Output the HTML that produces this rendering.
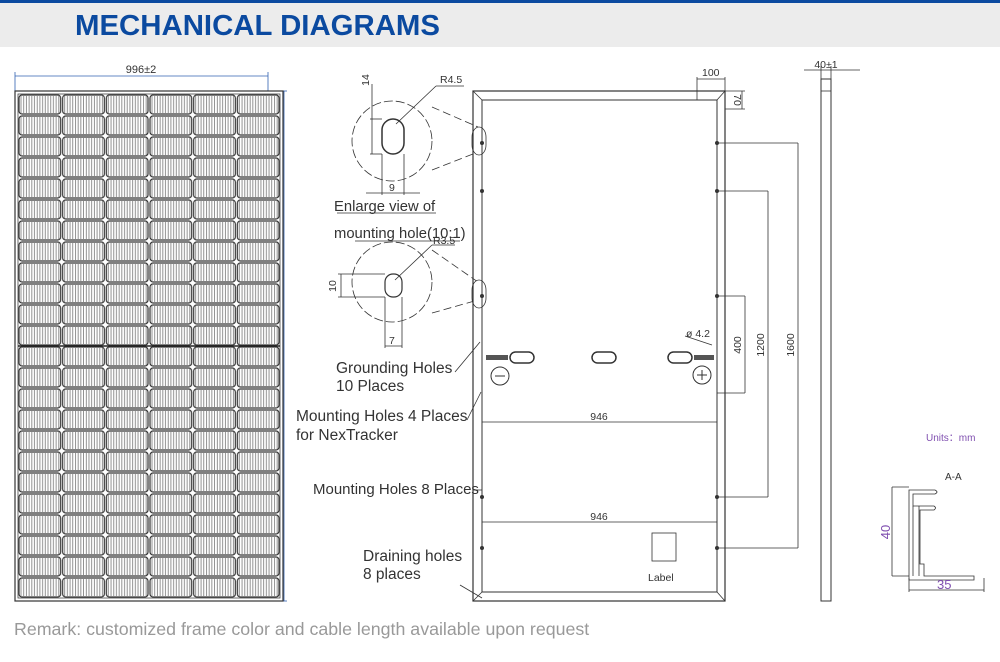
<!DOCTYPE html>
<html><head><meta charset="utf-8"><style>
body{margin:0;width:1000px;height:657px;background:#fff;overflow:hidden;font-family:"Liberation Sans",sans-serif}
</style></head><body>
<svg width="1000" height="657" viewBox="0 0 1000 657" xmlns="http://www.w3.org/2000/svg" font-family="Liberation Sans, sans-serif">
<defs>
<pattern id="cell" patternUnits="userSpaceOnUse" x="18" y="94" width="43.67" height="21">
<rect x="0" y="0" width="43.67" height="21" fill="#fff"/>
<g stroke="#777" stroke-width="0.8">
<line x1="3" y1="2" x2="3" y2="19"/><line x1="5.7" y1="2" x2="5.7" y2="19"/><line x1="8.4" y1="2" x2="8.4" y2="19"/><line x1="11.1" y1="2" x2="11.1" y2="19"/><line x1="13.8" y1="2" x2="13.8" y2="19"/><line x1="16.5" y1="2" x2="16.5" y2="19"/><line x1="19.2" y1="2" x2="19.2" y2="19"/><line x1="21.9" y1="2" x2="21.9" y2="19"/><line x1="24.6" y1="2" x2="24.6" y2="19"/><line x1="27.3" y1="2" x2="27.3" y2="19"/><line x1="30" y1="2" x2="30" y2="19"/><line x1="32.7" y1="2" x2="32.7" y2="19"/><line x1="35.4" y1="2" x2="35.4" y2="19"/><line x1="38.1" y1="2" x2="38.1" y2="19"/><line x1="40.8" y1="2" x2="40.8" y2="19"/>
</g>
<rect x="1" y="1" width="41.67" height="19" rx="3" fill="none" stroke="#333" stroke-width="1.2"/>
</pattern>
</defs>
<rect x="0" y="0" width="1000" height="3" fill="#0b4aa0"/>
<rect x="0" y="3" width="1000" height="44" fill="#ececec"/>
<text x="75" y="35" font-size="29" font-weight="bold" fill="#0b4aa0" textLength="365" lengthAdjust="spacingAndGlyphs">MECHANICAL DIAGRAMS</text>

<g stroke="#3060b0" stroke-width="0.8" fill="none">
<line x1="15" y1="76" x2="268" y2="76"/><line x1="15" y1="72" x2="15" y2="92"/><line x1="268" y1="72" x2="268" y2="92"/>
<line x1="283" y1="91" x2="287" y2="91"/><line x1="283" y1="601" x2="287" y2="601"/><line x1="284" y1="91" x2="284" y2="601"/>
</g>
<text x="141" y="73" font-size="11" text-anchor="middle" fill="#333">996±2</text>
<text transform="translate(280,346) rotate(-90)" font-size="11" text-anchor="middle" fill="#333">2015±2</text>
<rect x="15" y="91" width="268" height="510" fill="#fff" stroke="#333" stroke-width="1.2"/>
<rect x="18" y="94" width="262" height="504" fill="url(#cell)" stroke="#444" stroke-width="0.8"/>
<line x1="18" y1="346" x2="280" y2="346" stroke="#222" stroke-width="1.5"/>

<g stroke="#333" stroke-width="0.8" fill="none">
<circle cx="392" cy="141" r="40" stroke-dasharray="9,3"/>
<rect x="382" y="119" width="22" height="35" rx="11" stroke-width="1.5"/>
<line x1="370" y1="119" x2="382" y2="119"/><line x1="370" y1="154" x2="382" y2="154"/>
<line x1="372" y1="84" x2="372" y2="154"/>
<line x1="382" y1="154" x2="382" y2="195"/><line x1="404" y1="154" x2="404" y2="195"/>
<line x1="366" y1="193" x2="420" y2="193"/>
<line x1="396" y1="124" x2="436" y2="86"/><line x1="436" y1="86" x2="464" y2="86"/>
<line x1="432" y1="107" x2="478" y2="127" stroke-dasharray="8,4"/><line x1="432" y1="170" x2="478" y2="152" stroke-dasharray="8,4"/>
<circle cx="392" cy="282" r="40" stroke-dasharray="9,3"/>
<rect x="385" y="274" width="17" height="23" rx="8" stroke-width="1.2"/>
<line x1="338" y1="274" x2="385" y2="274"/><line x1="338" y1="297" x2="385" y2="297"/>
<line x1="341" y1="274" x2="341" y2="297"/>
<line x1="385" y1="297" x2="385" y2="348"/><line x1="402" y1="297" x2="402" y2="348"/>
<line x1="385" y1="346" x2="402" y2="346"/>
<line x1="395" y1="280" x2="432" y2="245"/><line x1="432" y1="245" x2="455" y2="245"/>
<line x1="432" y1="250" x2="478" y2="282" stroke-dasharray="8,4"/><line x1="432" y1="313" x2="478" y2="300" stroke-dasharray="8,4"/>
<line x1="337" y1="213" x2="436" y2="213"/><line x1="355" y1="241" x2="460" y2="241"/>
</g>
<text transform="translate(369,80) rotate(-90)" font-size="10.5" fill="#333" text-anchor="middle">14</text>
<text x="440" y="83" font-size="10.5" fill="#333">R4.5</text>
<text x="389" y="191" font-size="10.5" fill="#333">9</text>
<text x="334" y="211" font-size="14.8" fill="#333">Enlarge view of</text>
<text x="334" y="238" font-size="14.8" fill="#333">mounting hole(10:1)</text>
<text x="433" y="244" font-size="10.5" fill="#333">R3.5</text>
<text transform="translate(336,286) rotate(-90)" font-size="10.5" fill="#333" text-anchor="middle">10</text>
<text x="389" y="344" font-size="10.5" fill="#333">7</text>
<path d="M472 137 a7 10 0 0 1 14 0 v8 a7 10 0 0 1 -14 0z" fill="#fff" stroke="#333" stroke-width="0.8"/>
<path d="M472 290 a7 10 0 0 1 14 0 v8 a7 10 0 0 1 -14 0z" fill="#fff" stroke="#333" stroke-width="0.8"/>

<g stroke="#333" fill="none">
<rect x="473" y="91" width="252" height="510" stroke-width="1.2"/>
<rect x="482" y="100" width="235" height="492" stroke-width="1"/>
<line x1="473" y1="91" x2="482" y2="100" stroke-width="0.8"/><line x1="725" y1="91" x2="717" y2="100" stroke-width="0.8"/>
<line x1="473" y1="601" x2="482" y2="592" stroke-width="0.8"/><line x1="725" y1="601" x2="717" y2="592" stroke-width="0.8"/>
<g stroke-width="0.8">
<line x1="717" y1="191" x2="768" y2="191"/>
<line x1="717" y1="143" x2="798" y2="143"/><line x1="717" y1="548" x2="798" y2="548"/>
<line x1="717" y1="497" x2="768" y2="497"/>
<line x1="717" y1="296" x2="745" y2="296"/><line x1="717" y1="393" x2="745" y2="393"/>
<line x1="798" y1="143" x2="798" y2="548"/><line x1="768" y1="191" x2="768" y2="497"/><line x1="745" y1="296" x2="745" y2="393"/>
<line x1="482" y1="422" x2="717" y2="422"/><line x1="482" y1="522" x2="717" y2="522"/>
<line x1="697" y1="77" x2="697" y2="100"/><line x1="725" y1="77" x2="725" y2="100"/><line x1="697" y1="79" x2="725" y2="79"/>
<line x1="725" y1="91" x2="745" y2="91"/><line x1="725" y1="109" x2="745" y2="109"/><line x1="742" y1="91" x2="742" y2="109"/>
<line x1="685" y1="336" x2="712" y2="345"/>
</g>
<rect x="652" y="533" width="24" height="28" stroke-width="0.8"/>
<rect x="510" y="352" width="24" height="11" rx="5.5" stroke-width="1.5"/>
<rect x="592" y="352" width="24" height="11" rx="5.5" stroke-width="1.5"/>
<rect x="668" y="352" width="24" height="11" rx="5.5" stroke-width="1.5"/>
<circle cx="500" cy="376" r="9" stroke-width="1"/><circle cx="702" cy="375" r="9" stroke-width="1"/>
<line x1="495" y1="376" x2="505" y2="376"/><line x1="697" y1="375" x2="707" y2="375"/><line x1="702" y1="370" x2="702" y2="380"/>
</g>
<rect x="486" y="355" width="22" height="5" fill="#555"/>
<rect x="694" y="355" width="20" height="5" fill="#555"/>
<g fill="#333">
<circle cx="482" cy="143" r="2"/><circle cx="482" cy="191" r="2"/><circle cx="482" cy="296" r="2"/><circle cx="482" cy="497" r="2"/><circle cx="482" cy="548" r="2"/>
<circle cx="717" cy="143" r="2"/><circle cx="717" cy="191" r="2"/><circle cx="717" cy="296" r="2"/><circle cx="717" cy="497" r="2"/><circle cx="717" cy="548" r="2"/>
</g>
<g font-size="10.5" fill="#333">
<text x="702" y="76">100</text>
<text transform="translate(734,100) rotate(90)" text-anchor="middle">70</text>
<text transform="translate(741,345) rotate(-90)" text-anchor="middle">400</text>
<text transform="translate(764,345) rotate(-90)" text-anchor="middle">1200</text>
<text transform="translate(794,345) rotate(-90)" text-anchor="middle">1600</text>
<text x="686" y="337">ø 4.2</text>
<text x="599" y="420" text-anchor="middle">946</text>
<text x="599" y="520" text-anchor="middle">946</text>
<text x="648" y="581">Label</text>
</g>
<g stroke="#333" stroke-width="0.8" fill="none">
<line x1="455" y1="372" x2="480" y2="342"/>
<line x1="467" y1="420" x2="481" y2="392"/>
<line x1="473" y1="490" x2="482" y2="490"/>
<line x1="460" y1="585" x2="482" y2="598"/>
</g>
<g font-size="15.5" fill="#333">
<text x="336" y="373">Grounding Holes</text><text x="336" y="391">10 Places</text>
<text x="296" y="421">Mounting Holes 4 Places</text><text x="296" y="440">for NexTracker</text>
<text x="313" y="494" font-size="15">Mounting Holes 8 Places</text>
<text x="363" y="561">Draining holes</text><text x="363" y="579">8 places</text>
</g>
<g stroke="#333" fill="none" stroke-width="0.8">
<rect x="821" y="79" width="10" height="522" stroke-width="1"/>
<line x1="821" y1="91" x2="831" y2="91"/>
<line x1="804" y1="70" x2="860" y2="70"/><line x1="821" y1="66" x2="821" y2="79"/><line x1="831" y1="66" x2="831" y2="79"/>
</g>
<text x="826" y="68" font-size="10.5" fill="#333" text-anchor="middle">40±1</text>
<text x="926" y="441" font-size="10" fill="#8050b0">Units：mm</text>
<text x="945" y="480" font-size="10" fill="#333">A-A</text>
<g stroke="#333" fill="none" stroke-width="0.8">
<path d="M909 576 V490 h26 q4 2 0 4 h-22 v12 h21 q3 2 0 4 h-14 v54 h4 v12 h50 v4 h-65 z"/>
<line x1="913" y1="506" x2="913" y2="576"/><line x1="919" y1="506" x2="919" y2="576"/>
<line x1="892" y1="487" x2="909" y2="487"/><line x1="892" y1="576" x2="909" y2="576"/><line x1="892" y1="487" x2="892" y2="576"/>
<line x1="909" y1="578" x2="909" y2="592"/><line x1="984" y1="578" x2="984" y2="592"/><line x1="909" y1="590" x2="984" y2="590"/>
</g>
<text transform="translate(890,532) rotate(-90)" font-size="13" fill="#8050b0" text-anchor="middle">40</text>
<text x="937" y="589" font-size="13" fill="#8050b0">35</text>
<text x="14" y="635" font-size="17.8" fill="#999">Remark: customized frame color and cable length available upon request</text>
</svg>
</body></html>
